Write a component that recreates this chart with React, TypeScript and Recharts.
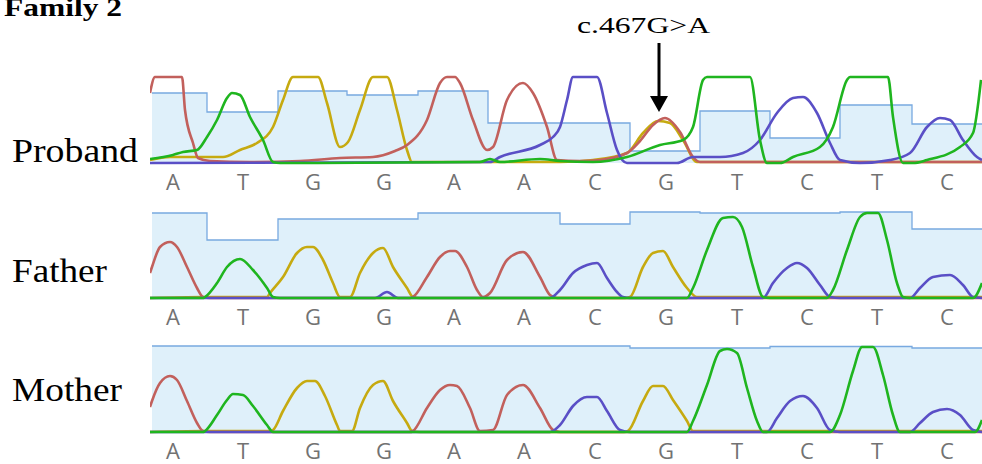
import React from "react";
import { ComposedChart, Line, Area, XAxis, YAxis } from "recharts";

// base calls and their scan positions
const bases = ["A", "T", "G", "G", "A", "A", "C", "G", "T", "C", "T", "C"];
const basePos = [173, 243, 313, 384, 454, 524, 595, 666, 737, 807, 877, 947];

type Pt = [number, number];

// proband traces [scan, signal]
const probandA: Pt[] = [[150, 70], [155, 86], [182, 86], [185, 53], [193, 20], [198, 5], [210, 2], [250, 1], [300, 2], [340, 5], [373, 6], [395, 12], [407, 18], [427, 43], [440, 80], [447, 86], [455, 86], [460, 80], [473, 43], [487, 13], [493, 16], [507, 63], [523, 80], [533, 70], [547, 36], [557, 3], [580, 2], [600, 3], [627, 10], [640, 22], [653, 38], [665, 45], [680, 31], [693, 6], [700, 1], [760, 1], [982, 1]];
const probandT: Pt[] = [[150, 4], [173, 8], [183, 11], [197, 13], [207, 26], [217, 43], [227, 65], [232, 70], [240, 68], [250, 46], [263, 23], [273, 1], [280, 0], [480, 1], [490, 4], [500, 1], [540, 4], [560, 2], [593, 1], [627, 6], [660, 18], [683, 23], [693, 36], [703, 83], [707, 86], [750, 86], [760, 23], [767, 0], [780, 0], [793, 6], [820, 16], [833, 36], [847, 83], [850, 86], [888, 86], [893, 46], [903, 0], [913, 0], [927, 3], [960, 16], [973, 30], [981, 83]];
const probandG: Pt[] = [[150, 3], [170, 6], [223, 6], [240, 13], [257, 20], [273, 36], [283, 63], [293, 86], [318, 86], [327, 60], [340, 16], [348, 21], [360, 53], [373, 86], [387, 86], [397, 53], [407, 13], [412, 1], [560, 1], [593, 3], [627, 10], [643, 30], [658, 42], [670, 40], [683, 23], [697, 1], [982, 1]];
const probandC: Pt[] = [[150, 0], [490, 1], [500, 6], [540, 18], [553, 26], [560, 36], [567, 63], [573, 86], [597, 86], [607, 50], [617, 13], [627, 0], [677, 0], [693, 6], [720, 6], [743, 10], [760, 23], [777, 50], [793, 65], [803, 66], [817, 50], [830, 20], [840, 3], [860, 0], [890, 3], [910, 10], [927, 36], [940, 45], [950, 43], [963, 23], [977, 6], [982, 3]];
const probandQ: Pt[] = [[152, 70], [207, 51], [278, 72], [347, 68], [418, 72], [488, 40], [560, 40], [630, 12], [700, 52], [770, 25], [840, 58], [912, 39], [982, 39]];

// father traces
const fatherA: Pt[] = [[150, 25], [152, 31], [160, 51], [170, 56], [177, 51], [187, 31], [197, 10], [203, 1], [210, 0], [410, 0], [413, 1], [427, 21], [440, 41], [450, 47], [455, 47], [467, 31], [477, 8], [483, 1], [490, 5], [507, 38], [523, 46], [540, 21], [550, 3], [557, 0], [982, 0]];
const fatherT: Pt[] = [[150, 0], [203, 0], [205, 1], [217, 15], [227, 31], [240, 39], [253, 28], [267, 10], [273, 1], [280, 0], [687, 0], [693, 10], [707, 48], [723, 80], [733, 81], [742, 71], [753, 31], [763, 1], [770, 0], [827, 0], [833, 8], [847, 48], [860, 81], [867, 85], [878, 85], [887, 58], [897, 15], [903, 1], [910, 0], [973, 0], [982, 15]];
const fatherG: Pt[] = [[150, 0], [203, 1], [267, 1], [270, 5], [283, 21], [297, 45], [307, 51], [313, 51], [323, 38], [333, 15], [340, 1], [350, 1], [360, 25], [373, 45], [383, 50], [393, 31], [407, 10], [413, 1], [420, 0], [625, 0], [630, 1], [643, 31], [653, 45], [663, 47], [673, 31], [687, 10], [697, 1], [982, 1]];
const fatherC: Pt[] = [[150, 0], [375, 0], [387, 6], [398, 0], [550, 0], [560, 8], [573, 25], [587, 33], [597, 35], [607, 20], [617, 6], [623, 1], [630, 0], [763, 0], [773, 15], [787, 30], [797, 35], [807, 30], [820, 13], [830, 1], [840, 0], [910, 0], [920, 10], [933, 21], [950, 23], [963, 13], [973, 1], [982, 0]];
const fatherQ: Pt[] = [[152, 85], [207, 58], [278, 79], [418, 85], [560, 74], [630, 86], [700, 85], [840, 86], [912, 69], [982, 69]];

// mother traces
const motherA: Pt[] = [[150, 25], [152, 31], [160, 49], [170, 56], [177, 52], [187, 31], [197, 9], [203, 1], [210, 0], [410, 0], [413, 1], [427, 24], [440, 42], [450, 47], [457, 46], [470, 24], [480, 1], [493, 2], [507, 37], [523, 47], [540, 24], [553, 2], [560, 0], [982, 0]];
const motherT: Pt[] = [[150, 0], [203, 0], [205, 1], [217, 17], [227, 32], [233, 38], [243, 37], [253, 26], [267, 7], [273, 0], [687, 0], [693, 11], [707, 47], [720, 81], [727, 83], [737, 79], [747, 44], [757, 11], [763, 0], [830, 0], [840, 17], [853, 61], [862, 85], [873, 85], [883, 57], [893, 17], [900, 0], [975, 0], [982, 12]];
const motherG: Pt[] = [[150, 0], [203, 1], [270, 1], [273, 2], [283, 21], [297, 44], [307, 51], [315, 51], [325, 36], [337, 7], [340, 1], [352, 1], [360, 24], [373, 47], [383, 51], [393, 31], [407, 9], [412, 1], [420, 0], [624, 0], [628, 1], [643, 31], [653, 46], [663, 46], [673, 32], [687, 11], [693, 1], [982, 1]];
const motherC: Pt[] = [[150, 0], [550, 0], [560, 7], [573, 26], [587, 35], [597, 35], [607, 21], [620, 2], [630, 0], [767, 0], [777, 14], [790, 31], [803, 36], [817, 24], [830, 2], [840, 0], [910, 0], [920, 9], [933, 20], [947, 23], [960, 17], [973, 2], [982, 0]];
const motherQ: Pt[] = [[152, 86], [630, 84], [770, 85.5], [912, 84], [982, 84]];

const COLORS = {
  A: "#c2605c",
  T: "#1fb51f",
  G: "#c6aa10",
  C: "#5a4fc6",
  qFill: "#dff0fa",
  qLine: "#78a9e0",
};

const toRows = (pts: Pt[]) => pts.map(([x, v]) => ({ x, v }));

const BaseTick = (props: any) => {
  const { x, y, payload } = props;
  const i = basePos.indexOf(payload.value);
  return (
    <text x={x} y={y + 18} textAnchor="middle" dominantBaseline="central"
      fontFamily="'Open Sans', sans-serif" fontSize={22} fill="#727272">
      {bases[i]}
    </text>
  );
};

interface PanelProps {
  top: number;
  a: Pt[]; t: Pt[]; g: Pt[]; c: Pt[]; q: Pt[];
}

function Panel({ top, a, t, g, c, q }: PanelProps) {
  const traces: [Pt[], string][] = [[g, COLORS.G], [a, COLORS.A], [c, COLORS.C], [t, COLORS.T]];
  return (
    <div style={{ position: "absolute", left: 150, top }}>
      <ComposedChart width={832} height={120} margin={{ top: 0, right: 0, bottom: 0, left: 0 }}>
        <XAxis type="number" dataKey="x" domain={[150, 982]} ticks={basePos} interval={0}
          height={32} axisLine={false} tickLine={false} tickSize={0} tickMargin={0} tick={<BaseTick />} />
        <YAxis type="number" domain={[0, 88]} hide />
        <Area data={toRows(q)} dataKey="v" type="stepAfter" fill={COLORS.qFill} fillOpacity={1}
          stroke={COLORS.qLine} strokeWidth={1.3} isAnimationActive={false} dot={false} activeDot={false} />
        {traces.map(([pts, col], i) => (
          <Line key={i} data={toRows(pts)} dataKey="v" type="monotone" stroke={col} strokeWidth={2.6}
            dot={false} activeDot={false} isAnimationActive={false} />
        ))}
      </ComposedChart>
    </div>
  );
}

export default function App() {
  const serif = "'Liberation Serif', 'Times New Roman', serif";
  return (
    <div style={{ position: "absolute", left: 0, top: 0, width: 982, height: 464, background: "#fff", overflow: "hidden" }}>
      <Panel top={75} a={probandA} t={probandT} g={probandG} c={probandC} q={probandQ} />
      <Panel top={210} a={fatherA} t={fatherT} g={fatherG} c={fatherC} q={fatherQ} />
      <Panel top={344} a={motherA} t={motherT} g={motherG} c={motherC} q={motherQ} />
      <svg width={982} height={464} style={{ position: "absolute", left: 0, top: 0, pointerEvents: "none" }}>
        <text x={4} y={16} fontFamily={serif} fontWeight="bold" fontSize={25} textLength={118} lengthAdjust="spacingAndGlyphs" fill="#000">Family 2</text>
        <text x={577} y={33} fontFamily={serif} fontSize={23} textLength={133} lengthAdjust="spacingAndGlyphs" fill="#000">c.467G&gt;A</text>
        <line x1={659} y1={43} x2={659} y2={100} stroke="#000" strokeWidth={3} />
        <polygon points="650,96 668,96 659,112" fill="#000" />
        <text x={12} y={162} fontFamily={serif} fontSize={33} textLength={126} lengthAdjust="spacingAndGlyphs" fill="#000">Proband</text>
        <text x={12} y={282} fontFamily={serif} fontSize={33} textLength={95} lengthAdjust="spacingAndGlyphs" fill="#000">Father</text>
        <text x={12} y={401} fontFamily={serif} fontSize={33} textLength={110} lengthAdjust="spacingAndGlyphs" fill="#000">Mother</text>
      </svg>
    </div>
  );
}
